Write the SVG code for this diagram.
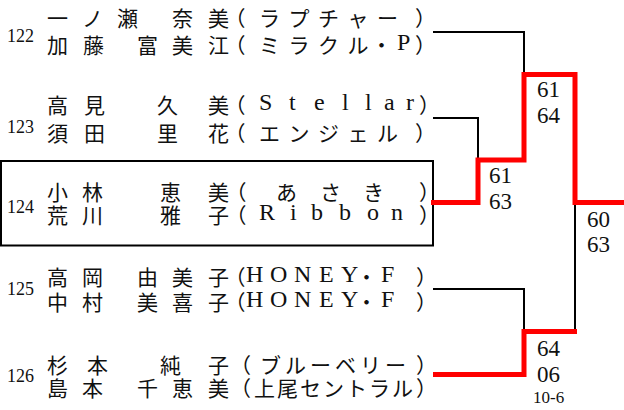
<svg xmlns="http://www.w3.org/2000/svg" width="624" height="410" viewBox="0 0 624 410">
<style>
.t{font-family:"Noto Sans CJK JP","Liberation Serif",serif;font-size:21px;fill:#111}
.l{font-family:"Liberation Serif",serif;font-size:24px;fill:#111}
.n{font-family:"Liberation Serif",serif;font-size:18px;fill:#111}
.s{font-family:"Liberation Serif",serif;font-size:23px;fill:#111}
.ss{font-family:"Liberation Serif",serif;font-size:17px;fill:#111}
.k{fill:none;stroke:#000;stroke-width:2}
.r{fill:none;stroke:#f00;stroke-width:5}
</style>
<rect width="624" height="410" fill="#fff"/>
<g id="p122">
<text class="n" x="7" y="42">122</text>
<text class="t" y="26"><tspan x="47 82 117 145 172 208">一ノ瀬　奈美</tspan><tspan x="224.5">（</tspan><tspan x="259 288.5 318 347.5 377">ラプチャー</tspan><tspan x="415">）</tspan></text>
<text class="t" y="53"><tspan x="47 83 110 137 172 208">加藤　富美江</tspan><tspan x="224.5">（</tspan><tspan x="259 288.5 318 347.5 371">ミラクル・</tspan><tspan class="l" x="397" dy="-3">P</tspan><tspan x="415" dy="3">）</tspan></text>
</g>
<g id="p123">
<text class="n" x="7" y="133">123</text>
<text class="t" y="113"><tspan x="47 84 120 157 208">高見　久美</tspan><tspan x="224.5">（</tspan><tspan class="l" dy="-3" x="259 289 314 342 365 384 406">Stellar</tspan><tspan x="419" dy="3">）</tspan></text>
<text class="t" y="141"><tspan x="47 84 120 157 208">須田　里花</tspan><tspan x="224.5">（</tspan><tspan x="259 288.5 318 347.5 377">エンジェル</tspan><tspan x="415">）</tspan></text>
</g>
<g id="p124">
<rect x="1" y="161" width="432" height="84.5" fill="none" stroke="#000" stroke-width="2"/>
<text class="n" x="7" y="213">124</text>
<text class="t" y="200"><tspan x="47 82 120 160 208">小林　恵美</tspan><tspan x="225.5">（</tspan><tspan x="276 320 363">あさき</tspan><tspan x="419">）</tspan></text>
<text class="t" y="223"><tspan x="47 82 120 160 208">荒川　雅子</tspan><tspan x="225.5">（</tspan><tspan class="l" dy="-3" x="259 290 311 339 367 391">Ribbon</tspan><tspan x="419" dy="3">）</tspan></text>
</g>
<g id="p125">
<text class="n" x="7" y="295">125</text>
<text class="t" y="285"><tspan x="47 82 110 137 172 208">高岡　由美子</tspan><tspan x="224.5">（</tspan><tspan class="l" dy="-3" x="246 270 294 319 341">HONEY</tspan><tspan dy="3" x="356">・</tspan><tspan class="l" dy="-3" x="381">F</tspan><tspan x="416" dy="3">）</tspan></text>
<text class="t" y="310"><tspan x="47 82 110 137 172 208">中村　美喜子</tspan><tspan x="224.5">（</tspan><tspan class="l" dy="-3" x="246 270 294 319 341">HONEY</tspan><tspan dy="3" x="356">・</tspan><tspan class="l" dy="-3" x="381">F</tspan><tspan x="416" dy="3">）</tspan></text>
</g>
<g id="p126">
<text class="n" x="7" y="382">126</text>
<text class="t" y="373"><tspan x="47 87 120 160 208">杉本　純子</tspan><tspan x="230">（</tspan><tspan x="260 285 310 335 360 385">ブルーベリー</tspan><tspan x="416">）</tspan></text>
<text class="t" y="396"><tspan x="47 82 110 137 172 208">島本　千恵美</tspan><tspan x="230">（</tspan><tspan x="254 277 300 323 346 369 392">上尾セントラル</tspan><tspan x="416">）</tspan></text>
</g>
<g id="connectors">
<path class="k" d="M433,32H524V74"/>
<path class="k" d="M433,118H478V160"/>
<path class="k" d="M433,289H524V331"/>
<path class="k" d="M575,203V331"/>
<path class="r" d="M431,202.5H478V160H524V74.5H575V202.5H624"/>
<path class="r" d="M433,374.5H524V331.5H577"/>
</g>
<g id="scores">
<text class="s" x="537" y="97">61</text>
<text class="s" x="537" y="123">64</text>
<text class="s" x="489" y="183">61</text>
<text class="s" x="489" y="209">63</text>
<text class="s" x="587" y="227">60</text>
<text class="s" x="587" y="252">63</text>
<text class="s" x="537" y="356">64</text>
<text class="s" x="537" y="382">06</text>
<text class="ss" x="533" y="403">10-6</text>
</g>
</svg>
